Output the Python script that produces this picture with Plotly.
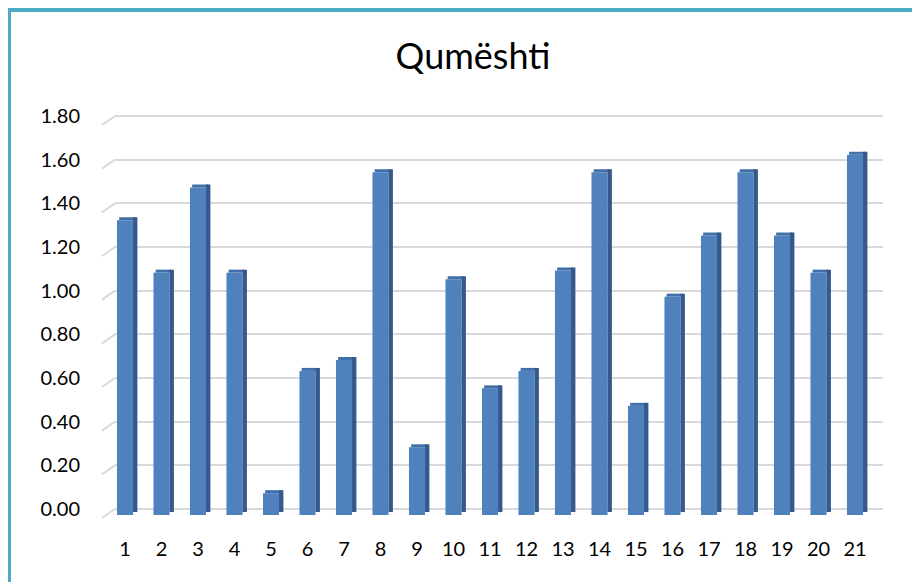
import plotly.graph_objects as go

categories = [str(i) for i in range(1, 22)]
values = [1.35, 1.11, 1.50, 1.11, 0.10, 0.66, 0.71, 1.57, 0.31, 1.08, 0.58,
          0.66, 1.12, 1.57, 0.50, 1.00, 1.28, 1.57, 1.28, 1.11, 1.65]
y_ticks = [0.0, 0.2, 0.4, 0.6, 0.8, 1.0, 1.2, 1.4, 1.6, 1.8]
title = "Qumështi"

# page has an 8px body margin, so the figure is laid out in shifted coordinates
W, H = 912, 574
L, R = 107, 875                           # plot area in figure pixels
Z = 501                                   # back-wall zero gridline
TOPGRID = 108                             # 1.80 gridline
px_per_unit = (Z - TOPGRID) / 1.8
pad_top = 3
T = TOPGRID - pad_top
top_extra = pad_top / px_per_unit
floor_px = 6
floor = floor_px / px_per_unit            # front floor offset in value units
cap = 3 / px_per_unit                     # height of the top face
B = Z + floor_px                          # front-face floor

xpos = list(range(1, len(categories) + 1))
front_w = 0.44
side_w = 0.12

FONT = "Lato"

fig = go.Figure()
# invisible trace to anchor the gridline axis
fig.add_trace(go.Scatter(x=xpos, y=values, mode="markers",
                         marker=dict(opacity=0), hoverinfo="skip"))
# front face
fig.add_trace(go.Bar(x=xpos, y=values, width=front_w, offset=-front_w / 2,
                     marker=dict(color="#4f81bd", line=dict(width=0)),
                     yaxis="y2", hoverinfo="skip"))
# top face
fig.add_trace(go.Bar(x=xpos, y=[cap] * len(values), base=values,
                     width=front_w, offset=-front_w / 2 + side_w / 2,
                     marker=dict(color="#416fa8", line=dict(width=0)),
                     yaxis="y2", hoverinfo="skip"))
# side face
fig.add_trace(go.Bar(x=xpos, y=values, base=[cap] * len(values),
                     width=side_w, offset=front_w / 2,
                     marker=dict(color="#34598a", line=dict(width=0)),
                     yaxis="y2", hoverinfo="skip"))

spu = 36.5
x0 = 1 - (117 - L) / spu
x1 = 21 + (R - 847) / spu


def px(xp):
    return (xp - L) / (R - L)


def py(yp):
    return (B - yp) / (B - T)


frame_col = "#4bacc6"
shapes = [
    dict(type="rect", xref="paper", yref="paper",
         x0=px(-5), x1=px(W + 5), y0=py(4), y1=py(-5),
         line=dict(width=0), fillcolor=frame_col, layer="below"),
    dict(type="rect", xref="paper", yref="paper",
         x0=px(-5), x1=px(3), y0=py(H + 5), y1=py(-5),
         line=dict(width=0), fillcolor=frame_col, layer="below"),
]
# perspective stubs at the left end of each gridline
for v in y_ticks:
    gy = Z - v * px_per_unit
    shapes.append(dict(type="line", xref="paper", yref="paper",
                       x0=px(L - 13), y0=py(gy + 9), x1=px(L), y1=py(gy),
                       line=dict(color="#d9d9d9", width=2), layer="below"))

fig.update_layout(
    width=W, height=H,
    margin=dict(l=L, r=W - R, t=T, b=H - B, pad=0),
    paper_bgcolor="white", plot_bgcolor="white",
    barmode="overlay", showlegend=False,
    title=dict(text=title, x=465 / W, xanchor="center", y=1 - 48 / H, yanchor="middle",
               font=dict(family=FONT, size=36, color="#000000")),
    xaxis=dict(range=[x0, x1], tickmode="array", tickvals=xpos, ticktext=categories,
               showgrid=False, zeroline=False, showline=False, ticks="",
               tickfont=dict(family=FONT, size=20, color="#000000"),
               ticklabelstandoff=20),
    yaxis=dict(range=[-floor, 1.8 + top_extra], tickmode="array", tickvals=y_ticks,
               ticktext=[f"{v:.2f}" for v in y_ticks],
               showgrid=True, gridcolor="#d9d9d9", gridwidth=2,
               zeroline=False, showline=False, ticks="",
               tickfont=dict(family=FONT, size=20, color="#000000"),
               ticklabelstandoff=34),
    yaxis2=dict(range=[0, 1.8 + floor + top_extra], overlaying="y", visible=False),
    shapes=shapes,
)

fig.write_html("out.html")
